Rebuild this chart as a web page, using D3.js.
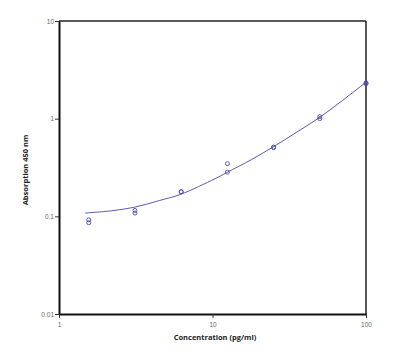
<!DOCTYPE html>
<html><head><meta charset="utf-8">
<script src="https://cdn.jsdelivr.net/npm/d3@7"></script>
<style>html,body{margin:0;padding:0;background:#fff;}</style>
</head><body><svg id="c" width="400" height="356"></svg>
<script>
// Measured points (pg/ml, absorbance) — duplicates
const concentrations = [1.5625, 1.5625, 3.125, 3.125, 6.25, 6.25, 12.5, 12.5, 25, 25, 50, 50, 100, 100];
const absorbance     = [0.092, 0.086, 0.115, 0.108, 0.179, 0.178, 0.346, 0.283, 0.512, 0.505, 1.05, 1.00, 2.33, 2.28];
// Fitted curve
const curveConc = [1.48, 2.2, 3.1, 4.5, 6.2, 10.4, 12.4, 18, 24.9, 35, 49.9, 70, 100];
const curveAbs  = [0.108, 0.114, 0.124, 0.145, 0.168, 0.243, 0.281, 0.382, 0.515, 0.72, 1.03, 1.53, 2.36];
const xTicks = [1, 10, 100];
const yTicks = [0.01, 0.1, 1, 10];
const xTickLabels = ["1", "10", "100"];
const yTickLabels = ["0.01", "0.1", "1", "10"];

const svg = d3.select("#c");
const L = 59, R = 366, T = 21, B = 314;
const x = d3.scaleLog().domain([1, 100]).range([L, R]);
const y = d3.scaleLog().domain([0.01, 10]).range([B, T]);
const blue = "#4a4ab0";

// frame
svg.append("line").attr("x1", L).attr("x2", R).attr("y1", T).attr("y2", T).attr("stroke", "#222").attr("stroke-width", 1.5);
svg.append("line").attr("x1", R).attr("x2", R).attr("y1", T).attr("y2", B).attr("stroke", "#222").attr("stroke-width", 1.5);

const xAxis = d3.axisBottom(x).tickValues(xTicks).tickFormat((d, i) => xTickLabels[i]).tickSize(4).tickSizeOuter(0);
const gx = svg.append("g").attr("transform", `translate(0,${B})`).call(xAxis);
gx.select(".domain").attr("stroke", "#111").attr("stroke-width", 2);
gx.selectAll(".tick line").attr("stroke", "#333").attr("stroke-width", 1);
gx.selectAll(".tick text").attr("font-family", "Liberation Sans, Arial, sans-serif").attr("font-size", 6.5).attr("fill", "#666").attr("dy", "0.9em");

const yAxis = d3.axisLeft(y).tickValues(yTicks).tickFormat((d, i) => yTickLabels[i]).tickSize(4).tickSizeOuter(0);
const gy = svg.append("g").attr("transform", `translate(${L},0)`).call(yAxis);
gy.select(".domain").attr("stroke", "#111").attr("stroke-width", 2);
gy.selectAll(".tick line").attr("stroke", "#333").attr("stroke-width", 1);
gy.selectAll(".tick text").attr("font-family", "Liberation Sans, Arial, sans-serif").attr("font-size", 6.5).attr("fill", "#666").attr("x", -5);

// curve
const curveData = curveConc.map((c, i) => [c, curveAbs[i]]);
svg.append("path").datum(curveData)
  .attr("d", d3.line().x(d => x(d[0])).y(d => y(d[1])).curve(d3.curveCatmullRom.alpha(0.5)))
  .attr("fill", "none").attr("stroke", "#5a5ab4").attr("stroke-width", 1);

// points
svg.selectAll("circle.pt").data(concentrations.map((c, i) => [c, absorbance[i]])).enter()
  .append("circle").attr("class", "pt")
  .attr("cx", d => x(d[0])).attr("cy", d => y(d[1])).attr("r", 2)
  .attr("fill", "none").attr("stroke", blue).attr("stroke-width", 0.9);

// titles
svg.append("text").attr("x", 215).attr("y", 340).attr("text-anchor", "middle")
  .attr("font-family", "Open Sans, Liberation Sans, sans-serif").attr("font-weight", "bold").attr("font-size", 7.5).attr("fill", "#222")
  .text("Concentration (pg/ml)");
svg.append("text").attr("transform", "translate(28,170) rotate(-90)").attr("text-anchor", "middle")
  .attr("font-family", "Open Sans, Liberation Sans, sans-serif").attr("font-weight", "bold").attr("font-size", 7.5).attr("fill", "#222")
  .text("Absorption 450 nm");
</script></body></html>
